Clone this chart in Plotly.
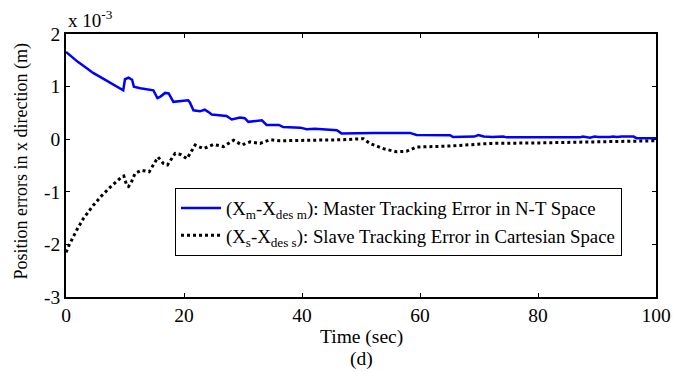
import plotly.graph_objects as go

# Master tracking error (x 1e-3 m)
t_master = [0, 1, 2, 3, 4.6, 6, 7.5, 8.5, 9.4, 9.7, 10.0, 10.6, 11.2, 11.5, 12.6, 14.2, 14.8, 15.5, 16.0,
            16.8, 17.4, 18.2, 19.3, 20.7, 21.0, 21.6, 22.7, 23.5, 24.1, 24.7, 27.2, 28.1, 29.5, 30.3, 30.9,
            32.9, 33.2, 34.0, 36.1, 36.8, 39.7, 40.8, 42.2, 45.9, 46.7, 52.1, 58.3, 59.4, 63.4, 65.1,
            65.6, 69.2, 69.9, 70.8, 72.3, 74.1, 74.7, 87.1, 87.6, 88.8, 89.6, 90.2, 92.2, 92.7, 93.4,
            94.2, 96.2, 96.7, 99.5, 100]
v_master = [1.66, 1.56, 1.47, 1.39, 1.26, 1.17, 1.07, 1.01, 0.95, 0.93, 1.14, 1.17, 1.13, 1.00, 0.97, 0.95,
            0.93, 0.78, 0.81, 0.88, 0.87, 0.71, 0.72, 0.74, 0.70, 0.55, 0.53, 0.56, 0.52, 0.47, 0.44, 0.375,
            0.41, 0.40, 0.33, 0.35, 0.36, 0.27, 0.27, 0.23, 0.22, 0.19, 0.20, 0.17, 0.11, 0.12, 0.12, 0.08,
            0.076, 0.076, 0.04, 0.05, 0.08, 0.05, 0.04, 0.05, 0.035, 0.035, 0.05, 0.03, 0.05, 0.04, 0.04,
            0.05, 0.04, 0.05, 0.05, 0.02, 0.02, 0.02]

# Slave tracking error (x 1e-3 m)
t_slave = [0, 0.5, 1.8, 3.0, 4.6, 6.0, 7.5, 8.5, 9.4, 9.8, 10.3, 10.6, 11.1, 11.7, 12.8, 14.1, 15.6, 16.5,
           17.2, 18.5, 19.4, 20.5, 21.9, 23.3, 25.0, 26.7, 28.4, 29.8, 31.2, 32.9, 34.6, 36.1, 42.5, 47.0,
           50.4, 51.5, 53.8, 56.0, 57.7, 59.4, 65.1, 71.9, 80.3, 92.8, 99.5, 100]
v_slave = [-2.15, -2.02, -1.73, -1.50, -1.26, -1.08, -0.91, -0.81, -0.72, -0.70, -0.88, -0.90, -0.81,
           -0.65, -0.59, -0.62, -0.34, -0.46, -0.49, -0.27, -0.29, -0.37, -0.11, -0.18, -0.10, -0.14,
           -0.02, -0.11, -0.05, -0.08, -0.01, -0.03, -0.02, -0.01, 0.01, -0.08, -0.18, -0.24, -0.23,
           -0.15, -0.13, -0.08, -0.07, -0.05, -0.03, -0.03]

x_ticks = [0, 20, 40, 60, 80, 100]
x_tick_labels = ["0", "20", "40", "60", "80", "100"]
y_ticks = [-3, -2, -1, 0, 1, 2]
y_tick_labels = ["-3", "-2", "-1", "0", "1", "2"]

name_master = "(X<sub>m</sub>-X<sub>des m</sub>): Master Tracking Error in N-T Space"
name_slave = "(X<sub>s</sub>-X<sub>des s</sub>): Slave Tracking Error in Cartesian Space"

FONT = "Times New Roman"

fig = go.Figure()
fig.add_trace(go.Scatter(x=t_master, y=v_master, mode="lines", name=name_master,
                         line=dict(color="#0000ff", width=2.5)))
fig.add_trace(go.Scatter(x=t_slave, y=v_slave, mode="lines", name=name_slave,
                         line=dict(color="black", width=3, dash="dot")))

axis_common = dict(showline=True, linecolor="black", linewidth=1.5, mirror="ticks",
                   ticks="inside", ticklen=4, tickcolor="black", showgrid=False,
                   zeroline=False, tickfont=dict(family=FONT, size=19.5, color="black"))

fig.update_xaxes(range=[0, 100], tickvals=x_ticks, ticktext=x_tick_labels, **axis_common)
fig.update_yaxes(range=[-3, 2], tickvals=y_ticks, ticktext=y_tick_labels, **axis_common)

fig.update_layout(
    width=686, height=372,
    margin=dict(l=66, r=30, t=34, b=75),
    paper_bgcolor="white", plot_bgcolor="white",
    font=dict(family=FONT, size=18, color="black"),
    showlegend=True,
    legend=dict(x=0.942, xanchor="right", y=0.156, yanchor="bottom",
                bgcolor="white", bordercolor="black", borderwidth=1.2,
                font=dict(family=FONT, size=18.8, color="black"),
                tracegroupgap=0, itemwidth=40),
    annotations=[
        dict(text="Time (sec)", xref="paper", yref="paper", x=0.5, y=0, yshift=-40,
             showarrow=False, font=dict(family=FONT, size=19.5), xanchor="center", yanchor="middle"),
        dict(text="(d)", xref="paper", yref="paper", x=0.5, y=0, yshift=-62,
             showarrow=False, font=dict(family=FONT, size=19.5), xanchor="center", yanchor="middle"),
        dict(text="Position errors in x direction (m)", xref="paper", yref="paper", x=0, xshift=-44,
             y=0.515, textangle=-90, showarrow=False, font=dict(family=FONT, size=18),
             xanchor="center", yanchor="middle"),
        dict(text="x 10<sup>-3</sup>", xref="paper", yref="paper", x=0, y=1, yshift=1,
             showarrow=False, font=dict(family=FONT, size=19), xanchor="left", yanchor="bottom"),
    ],
)

fig.write_html("out.html")
